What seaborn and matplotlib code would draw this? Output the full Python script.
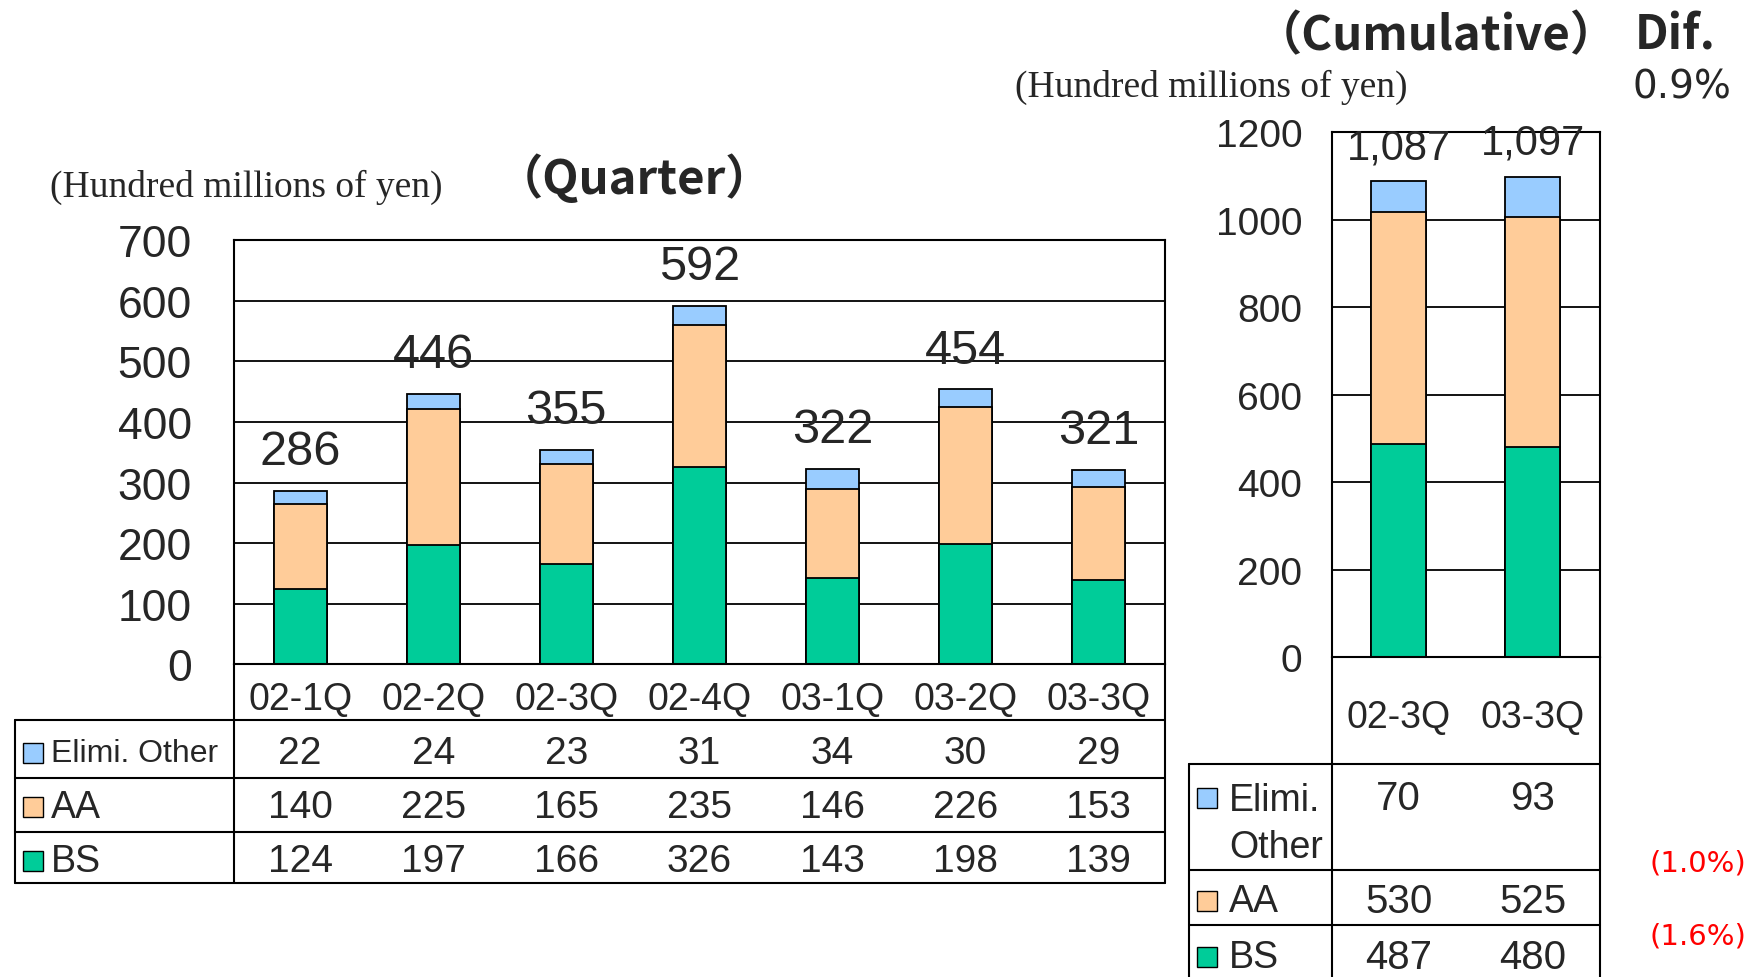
import matplotlib
matplotlib.use("Agg")
import matplotlib.pyplot as plt
import seaborn as sns
import numpy as np

# --- data ---
quarters = ["02-1Q", "02-2Q", "02-3Q", "02-4Q", "03-1Q", "03-2Q", "03-3Q"]
q_bs = [124, 197, 166, 326, 143, 198, 139]
q_aa = [140, 225, 165, 235, 146, 226, 153]
q_elim = [22, 24, 23, 31, 34, 30, 29]
q_total_labels = ["286", "446", "355", "592", "322", "454", "321"]

periods = ["02-3Q", "03-3Q"]
c_bs = [487, 480]
c_aa = [530, 525]
c_elim = [70, 93]
c_total_labels = ["1,087", "1,097"]

dif_total = "0.9%"
dif_aa = "(1.0%)"
dif_bs = "(1.6%)"

C_ELIM = "#99CCFF"
C_AA = "#FFCC99"
C_BS = "#00CC99"

sns.set_style("white")
plt.rcParams["font.family"] = ["Liberation Sans", "DejaVu Sans"]
SERIF = ["Liberation Serif", "DejaVu Serif"]
TITLE = ["Noto Sans CJK JP", "DejaVu Sans"]

fig = plt.figure(figsize=(17.53, 9.78), dpi=100)
ax_q = fig.add_axes([0.1333, 0.32, 0.5312, 0.4331])
ax_c = fig.add_axes([0.7596, 0.3269, 0.1531, 0.5371])


def stacked(ax, cats, bs, aa, elim, width):
    bs = np.array(bs)
    aa = np.array(aa)
    elim = np.array(elim)
    # draw the tallest layer first, then cover it with the lower ones
    for h, c in [(bs + aa + elim, C_ELIM), (bs + aa, C_AA), (bs, C_BS)]:
        sns.barplot(x=cats, y=h, color=c, saturation=1, width=width,
                    edgecolor="black", linewidth=1.3, errorbar=None, ax=ax)
    ax.set_xlim(-0.5, len(cats) - 0.5)


def frame(ax, ymax, step, ypad, size):
    ax.set_ylim(0, ymax)
    ax.set_yticks(np.arange(0, ymax + 1, step))
    ax.yaxis.grid(True, color="black", lw=1.3)
    ax.set_axisbelow(True)
    for s in ax.spines.values():
        s.set_visible(True)
        s.set_color("black")
        s.set_linewidth(1.5)
    ax.tick_params(axis="y", length=0, pad=ypad, labelsize=size)
    ax.set_xlabel("")
    ax.set_ylabel("")


def line(ax, xs, ys):
    ax.plot(xs, ys, color="black", lw=1.5, transform=ax.transAxes, clip_on=False)


def square(ax, x, y, color):
    ax.plot([x], [y], marker="s", markersize=14, mfc=color, mec="black", mew=1,
            transform=ax.transAxes, clip_on=False)


# ---------------- quarterly chart ----------------
stacked(ax_q, quarters, q_bs, q_aa, q_elim, 0.4)
frame(ax_q, 700, 100, 30, 32)
ax_q.tick_params(axis="x", length=0, pad=12, labelsize=27)
ax_q.bar_label(ax_q.containers[0], labels=q_total_labels, padding=12, fontsize=35)

tq = ax_q.get_xaxis_transform()
q_rows = [("Elimi. Other", q_elim, -0.211, C_ELIM, 23), ("AA", q_aa, -0.338, C_AA, 27),
          ("BS", q_bs, -0.464, C_BS, 27)]
for name, vals, y, col, fs in q_rows:
    square(ax_q, -0.215, y, col)
    ax_q.text(-0.196, y, name, transform=ax_q.transAxes, ha="left", va="center", fontsize=fs)
    for i, v in enumerate(vals):
        ax_q.text(i, y, str(v), transform=tq, ha="center", va="center", fontsize=28)
for y in [-0.132, -0.269, -0.396, -0.517]:
    line(ax_q, [-0.235, 1], [y, y])
line(ax_q, [-0.235, -0.235], [-0.132, -0.517])
line(ax_q, [0, 0], [0, -0.517])
line(ax_q, [1, 1], [0, -0.517])

# ---------------- cumulative chart ----------------
stacked(ax_c, periods, c_bs, c_aa, c_elim, 0.41)
frame(ax_c, 1200, 200, 21, 28)
ax_c.tick_params(axis="x", length=0, pad=30, labelsize=27)
ax_c.bar_label(ax_c.containers[0], labels=c_total_labels, padding=10, fontsize=30)

tc = ax_c.get_xaxis_transform()
square(ax_c, -0.4625, -0.268, C_ELIM)
ax_c.text(-0.382, -0.272, "Elimi.", transform=ax_c.transAxes, ha="left", va="center", fontsize=27)
ax_c.text(-0.382, -0.362, "Other", transform=ax_c.transAxes, ha="left", va="center", fontsize=27)
for i, v in enumerate(c_elim):
    ax_c.text(i, -0.268, str(v), transform=tc, ha="center", va="center", fontsize=29)
for name, vals, y, col in [("AA", c_aa, -0.464, C_AA), ("BS", c_bs, -0.570, C_BS)]:
    square(ax_c, -0.4625, y, col)
    ax_c.text(-0.382, y, name, transform=ax_c.transAxes, ha="left", va="center", fontsize=27)
    for i, v in enumerate(vals):
        ax_c.text(i, y, str(v), transform=tc, ha="center", va="center", fontsize=29)
for y in [-0.204, -0.404, -0.509]:
    line(ax_c, [-0.533, 1], [y, y])
line(ax_c, [-0.533, -0.533], [-0.204, -0.65])
line(ax_c, [0, 0], [0, -0.65])
line(ax_c, [1, 1], [0, -0.65])

# ---------------- headings ----------------
fig.text(0.0287, 0.808, "(Hundred millions of yen)", family=SERIF, fontsize=27, ha="left", va="center")
fig.text(0.3622, 0.817, "（Quarter）", family=TITLE, fontweight="bold", fontsize=34, ha="center", va="center")
fig.text(0.8195, 0.9634, "（Cumulative）", family=TITLE, fontweight="bold", fontsize=34, ha="center", va="center")
fig.text(0.9324, 0.9634, "Dif.", family=TITLE, fontweight="bold", fontsize=34, ha="left", va="center")
fig.text(0.579, 0.9109, "(Hundred millions of yen)", family=SERIF, fontsize=27, ha="left", va="center")
fig.text(0.931, 0.9109, dif_total, family=["DejaVu Sans"], fontsize=28, ha="left", va="center")
fig.text(0.9407, 0.1166, dif_aa, family=["DejaVu Sans"], fontsize=21, color="red", ha="left", va="center")
fig.text(0.9407, 0.0423, dif_bs, family=["DejaVu Sans"], fontsize=21, color="red", ha="left", va="center")

fig.savefig("out.png", dpi=100)
